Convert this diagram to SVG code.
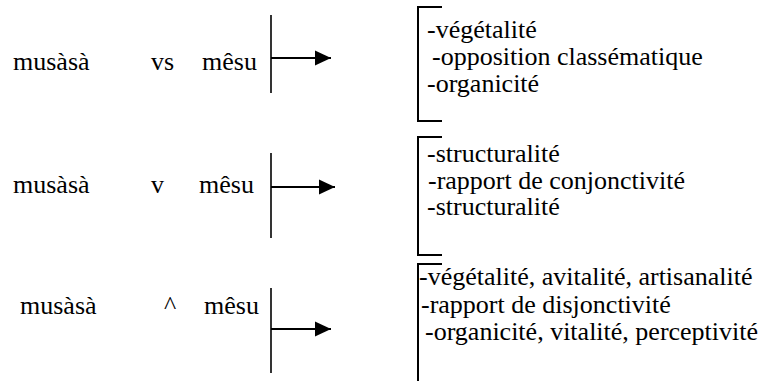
<svg xmlns="http://www.w3.org/2000/svg" width="765" height="381" viewBox="0 0 765 381">
  <style>
    text { font-family: "Liberation Serif", "Times New Roman", Times, serif; font-size: 26px; fill: #000; }
    .stem { stroke: #000; stroke-width: 1.6; fill: none; }
    .arrow { stroke: #000; stroke-width: 2; fill: none; }
    .bracket { stroke: #000; stroke-width: 2; fill: none; }
  </style>
  <defs>
    <marker id="head" markerWidth="16" markerHeight="16" refX="16" refY="8" orient="auto" markerUnits="userSpaceOnUse">
      <path d="M0,0.5 L16,8 L0,15.5 Z" fill="#000"/>
    </marker>
  </defs>

  <rect width="765" height="381" fill="#fff"/>

  <!-- oppositions, left column -->
  <g id="pair-vs">
    <text x="13" y="70">musàsà</text>
    <text x="151" y="70">vs</text>
    <text x="202" y="70">mêsu</text>
  </g>
  <g id="pair-v">
    <text x="13" y="193">musàsà</text>
    <text x="151" y="193">v</text>
    <text x="199" y="193">mêsu</text>
  </g>
  <g id="pair-wedge">
    <text x="20" y="314">musàsà</text>
    <text x="164" y="314">^</text>
    <text x="204" y="314">mêsu</text>
  </g>

  <!-- stems and arrows -->
  <g id="connectors">
    <line class="stem" x1="271" y1="15" x2="271" y2="93"/>
    <line class="arrow" x1="271" y1="58" x2="331" y2="58" marker-end="url(#head)"/>
    <line class="stem" x1="271" y1="153" x2="271" y2="238"/>
    <line class="arrow" x1="271" y1="187" x2="335" y2="187" marker-end="url(#head)"/>
    <line class="stem" x1="271" y1="288" x2="271" y2="373"/>
    <line class="arrow" x1="271" y1="329" x2="331" y2="329" marker-end="url(#head)"/>
  </g>

  <!-- semantic features, right column -->
  <g id="features-vs">
    <path class="bracket" d="M442,7 H418 V121 H442"/>
    <text x="427" y="38">-végétalité</text>
    <text x="432" y="65">-opposition classématique</text>
    <text x="427" y="92">-organicité</text>
  </g>
  <g id="features-v">
    <path class="bracket" d="M442,137 H418 V255 H442"/>
    <text x="427" y="162">-structuralité</text>
    <text x="428" y="189">-rapport de conjonctivité</text>
    <text x="427" y="215">-structuralité</text>
  </g>
  <g id="features-wedge">
    <path class="bracket" d="M442,264 H418 V381"/>
    <text x="419" y="285">-végétalité, avitalité, artisanalité</text>
    <text x="421" y="313">-rapport de disjonctivité</text>
    <text x="425" y="340">-organicité, vitalité, perceptivité</text>
  </g>
</svg>
